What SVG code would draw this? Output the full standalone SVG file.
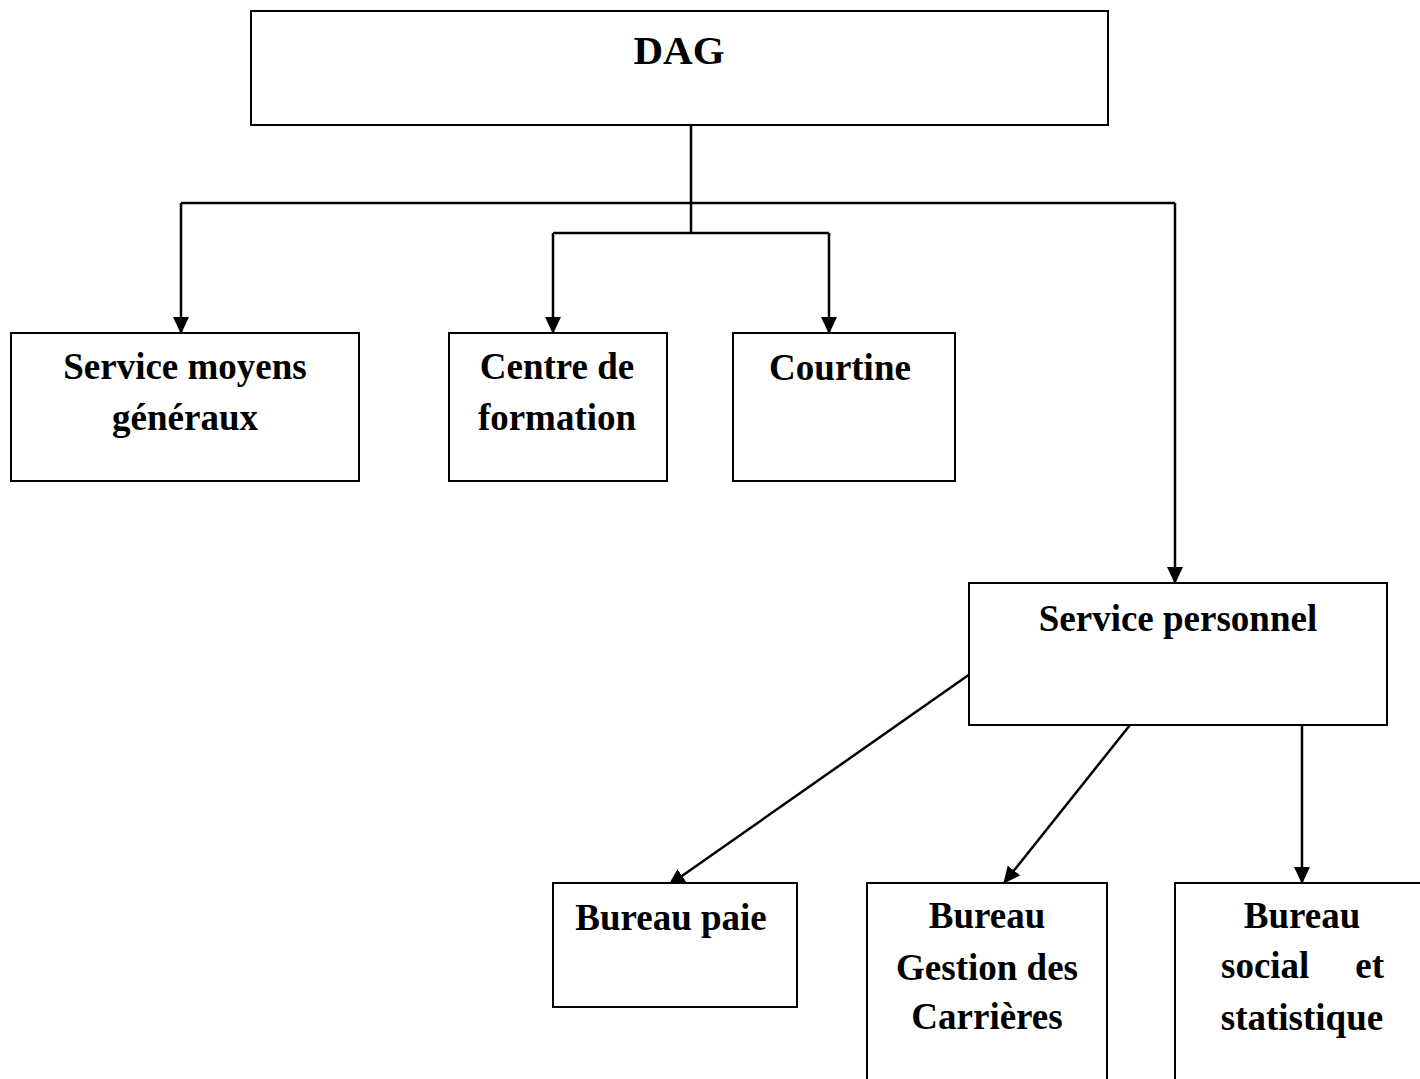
<svg xmlns="http://www.w3.org/2000/svg" width="1420" height="1079" viewBox="0 0 1420 1079">
  <style>
    .box { fill: #ffffff; stroke: #000000; stroke-width: 2; }
    .lbl { font-family: "Liberation Serif", "Times New Roman", serif; font-weight: bold; font-size: 37px; fill: #000000; text-anchor: middle; }
    .link { fill: none; stroke: #000000; stroke-width: 2.5; }
  </style>
  <defs>
    <marker id="arrow" markerUnits="userSpaceOnUse" markerWidth="17" markerHeight="16" refX="16" refY="8" orient="auto">
      <path d="M0,0 L17,8 L0,16 Z" fill="#000000"/>
    </marker>
  </defs>
  <rect width="1420" height="1079" fill="#ffffff"/>

  <g id="connectors">
    <!-- DAG trunk to the two central units -->
    <path class="link" d="M691,125 V233"/>
    <path class="link" d="M553,233 H829"/>
    <path class="link" d="M553,233 V333" marker-end="url(#arrow)"/>
    <path class="link" d="M829,233 V333" marker-end="url(#arrow)"/>
    <!-- wide branch -->
    <path class="link" d="M181,203 H1175"/>
    <path class="link" d="M181,203 V333" marker-end="url(#arrow)"/>
    <path class="link" d="M1175,203 V583" marker-end="url(#arrow)"/>
    <!-- Service personnel to the bureaux -->
    <path class="link" d="M970,674 L669,885" marker-end="url(#arrow)"/>
    <path class="link" d="M1130,725 L1004,883" marker-end="url(#arrow)"/>
    <path class="link" d="M1302,725 V883" marker-end="url(#arrow)"/>
  </g>

  <g id="node-dag">
    <rect class="box" x="251" y="11" width="857" height="114" stroke-width="2.5"/>
    <text class="lbl" x="679" y="64" style="font-size:41px">DAG</text>
  </g>

  <g id="node-moyens-generaux">
    <rect class="box" x="11" y="333" width="348" height="148"/>
    <text class="lbl" x="185" y="379">Service moyens</text>
    <text class="lbl" x="185" y="430">généraux</text>
  </g>

  <g id="node-centre-formation">
    <rect class="box" x="449" y="333" width="218" height="148"/>
    <text class="lbl" x="557" y="379">Centre de</text>
    <text class="lbl" x="557" y="430">formation</text>
  </g>

  <g id="node-courtine">
    <rect class="box" x="733" y="333" width="222" height="148"/>
    <text class="lbl" x="840" y="380">Courtine</text>
  </g>

  <g id="node-service-personnel">
    <rect class="box" x="969" y="583" width="418" height="142"/>
    <text class="lbl" x="1178" y="631">Service personnel</text>
  </g>

  <g id="node-bureau-paie">
    <rect class="box" x="553" y="883" width="244" height="124"/>
    <text class="lbl" x="671" y="930">Bureau paie</text>
  </g>

  <g id="node-bureau-carrieres">
    <rect class="box" x="867" y="883" width="240" height="220"/>
    <text class="lbl" x="987" y="928">Bureau</text>
    <text class="lbl" x="987" y="980">Gestion des</text>
    <text class="lbl" x="987" y="1029">Carrières</text>
  </g>

  <g id="node-bureau-social">
    <rect class="box" x="1175" y="883" width="270" height="220"/>
    <text class="lbl" x="1302" y="928">Bureau</text>
    <text class="lbl" x="1221" y="978" style="text-anchor:start">social</text>
    <text class="lbl" x="1384" y="978" style="text-anchor:end">et</text>
    <text class="lbl" x="1302" y="1030">statistique</text>
  </g>
</svg>
